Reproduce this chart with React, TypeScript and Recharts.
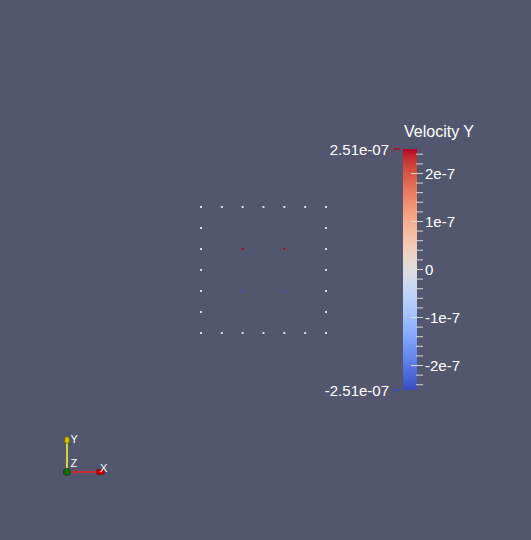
import React from "react";
import {
  ScatterChart,
  ComposedChart,
  Scatter,
  XAxis,
  YAxis,
  ReferenceArea,
  ReferenceLine,
  ReferenceDot
} from "recharts";

// mesh nodes (grid units) and their Velocity Y value
const nodeX = [0, 1, 2, 3, 4, 5, 6, 0, 6, 0, 2, 4, 6, 0, 6, 0, 2, 4, 6, 0, 6, 0, 1, 2, 3, 4, 5, 6];
const nodeY = [6, 6, 6, 6, 6, 6, 6, 5, 5, 4, 4, 4, 4, 3, 3, 2, 2, 2, 2, 1, 1, 0, 0, 0, 0, 0, 0, 0];
const velocityY = [
  0, 0, 0, 0, 0, 0, 0,
  0, 0,
  0, 2.51e-7, 2.51e-7, 0,
  0, 0,
  0, -2.51e-7, -2.51e-7, 0,
  0, 0,
  0, 0, 0, 0, 0, 0, 0
];

const rangeMin = -2.51e-7;
const rangeMax = 2.51e-7;
const colorTicks = [
  -2.51e-7, -2.4e-7, -2.2e-7, -2e-7, -1.8e-7, -1.6e-7, -1.4e-7, -1.2e-7, -1e-7,
  -8e-8, -6e-8, -4e-8, -2e-8, 0, 2e-8, 4e-8, 6e-8, 8e-8, 1e-7, 1.2e-7, 1.4e-7,
  1.6e-7, 1.8e-7, 2e-7, 2.2e-7, 2.4e-7, 2.51e-7
];
const title = "Velocity Y";

const nodes = nodeX.map((x, i) => ({ x, y: nodeY[i], v: velocityY[i] }));
const barData = [
  { x: 0, v: rangeMin },
  { x: 1, v: rangeMax }
];

// ParaView "Cool to Warm" colour map
const coolWarm = [
  [59, 76, 192], [68, 90, 204], [77, 104, 215], [87, 117, 225], [98, 130, 234],
  [108, 142, 241], [119, 154, 247], [130, 165, 251], [141, 176, 254], [152, 185, 255],
  [163, 194, 255], [174, 201, 253], [184, 208, 249], [194, 213, 244], [204, 217, 238],
  [213, 219, 230], [221, 221, 221], [229, 216, 209], [236, 211, 197], [241, 204, 185],
  [245, 196, 173], [247, 187, 160], [247, 177, 148], [247, 166, 135], [244, 154, 123],
  [241, 141, 111], [236, 127, 99], [229, 112, 88], [222, 96, 77], [213, 80, 66],
  [203, 62, 56], [192, 40, 47], [180, 4, 38]
];

const rgb = (c: number[]) => `rgb(${c.map(Math.round).join(",")})`;

function colorFor(v: number) {
  const t = Math.max(0, Math.min(1, (v - rangeMin) / (rangeMax - rangeMin)));
  const p = t * (coolWarm.length - 1);
  const i = Math.min(coolWarm.length - 2, Math.floor(p));
  const f = p - i;
  return rgb(coolWarm[i].map((a, k) => a + (coolWarm[i + 1][k] - a) * f));
}

const fmtRange = (v: number) => {
  const [m, e] = v.toExponential(2).split("e");
  const sign = e[0] === "-" ? "-" : "+";
  const digits = e.replace(/[-+]/, "").padStart(2, "0");
  return `${m}e${sign === "-" ? "-" : ""}${digits}`;
};

const fmtTick = (v: number) => {
  if (v === 0) return "0";
  const [m, e] = v.toExponential(0).split("e");
  return `${m}e${e.replace("+", "")}`;
};

const FONT = "'Liberation Sans', Arial, sans-serif";

function NodeShape(props: any) {
  const { cx, cy, payload } = props;
  return <rect x={cx - 1} y={cy - 1} width={2} height={2} fill={colorFor(payload.v)} />;
}

function BarTick(props: any) {
  const { x, y, payload } = props;
  const v = payload.value;
  if (Math.abs(v) > 2.5e-7) {
    const top = v > 0;
    return (
      <g>
        {top && (
          <text x={x - 13} y={y - 12} fill="#ffffff" fontSize={16} fontFamily={FONT}>
            {title}
          </text>
        )}
        <line x1={x - 24} x2={x - 17} y1={y} y2={y} stroke={colorFor(v)} strokeWidth={1.5} />
        <text x={x - 28} y={y + 5.5} textAnchor="end" fill="#ffffff" fontSize={15} fontFamily={FONT}>
          {fmtRange(v)}
        </text>
      </g>
    );
  }
  const major = Math.round(v * 1e8) % 10 === 0;
  return (
    <g>
      <line x1={major ? x - 6 : x - 1} x2={x + 6} y1={y} y2={y} stroke="#d8d8d8" strokeWidth={1} />
      {major && (
        <text x={x + 8} y={y + 5.5} fill="#ffffff" fontSize={15} fontFamily={FONT}>
          {fmtTick(v)}
        </text>
      )}
    </g>
  );
}

function AxisCone(props: any) {
  const { cx, cy, payload } = props;
  if (payload.axis === "X") {
    return (
      <g>
        <polygon
          points={`${cx - 7},${cy - 2.5} ${cx},${cy - 2} ${cx},${cy + 2} ${cx - 7},${cy + 2.5}`}
          fill="#e00000"
          stroke="#700000"
          strokeWidth={0.8}
        />
        <text x={cx - 4} y={cy} fill="#ffffff" fontSize={11} fontFamily={FONT}>X</text>
      </g>
    );
  }
  return (
    <g>
      <polygon
        points={`${cx - 2.5},${cy + 6} ${cx + 2.5},${cy + 6} ${cx + 2},${cy} ${cx - 2},${cy}`}
        fill="#d8c800"
        stroke="#6a6000"
        strokeWidth={0.8}
      />
      <text x={cx + 3.5} y={cy + 6} fill="#ffffff" fontSize={11} fontFamily={FONT}>Y</text>
    </g>
  );
}

const layer: React.CSSProperties = { position: "absolute", left: 0, top: 0 };

export default function App() {
  return (
    <div
      style={{
        position: "fixed",
        left: 0,
        top: 0,
        width: 531,
        height: 540,
        background: "#52576e",
        overflow: "hidden"
      }}
    >
      <div style={layer}>
        <ScatterChart width={531} height={540} margin={{ top: 207, bottom: 207, left: 201, right: 205 }}>
          <XAxis type="number" dataKey="x" domain={[0, 6]} hide />
          <YAxis type="number" dataKey="y" domain={[0, 6]} hide />
          <Scatter data={nodes} shape={<NodeShape />} isAnimationActive={false} />
        </ScatterChart>
      </div>

      <div style={layer}>
        <ComposedChart width={531} height={540} data={barData} margin={{ top: 149, bottom: 150, left: 403, right: 54 }}>
          <defs>
            <linearGradient id="coolwarm" x1="0" y1="1" x2="0" y2="0">
              {coolWarm.map((c, i) => (
                <stop key={i} offset={i / (coolWarm.length - 1)} stopColor={rgb(c)} />
              ))}
            </linearGradient>
          </defs>
          <XAxis type="number" dataKey="x" domain={[0, 1]} hide />
          <YAxis
            type="number"
            dataKey="v"
            orientation="right"
            domain={[rangeMin, rangeMax]}
            allowDataOverflow
            ticks={colorTicks}
            interval={0}
            tick={<BarTick />}
            tickSize={0}
            tickMargin={0}
            axisLine={false}
            tickLine={false}
            width={60}
          />
          <ReferenceArea x1={0} x2={1} y1={rangeMin} y2={rangeMax} fill="url(#coolwarm)" fillOpacity={1} stroke="none" />
        </ComposedChart>
      </div>

      <div style={layer}>
        <ScatterChart width={531} height={540} margin={{ top: 437, bottom: 68, left: 67, right: 427 }}>
          <XAxis type="number" dataKey="x" domain={[0, 1]} hide />
          <YAxis type="number" dataKey="y" domain={[0, 1]} hide />
          <ReferenceLine segment={[{ x: 0, y: 0 }, { x: 1, y: 0 }]} stroke="#ff1a1a" strokeWidth={1.5} />
          <ReferenceLine segment={[{ x: 0, y: 0 }, { x: 0, y: 1 }]} stroke="#ffff30" strokeWidth={1.5} />
          <Scatter
            data={[
              { x: 1, y: 0, axis: "X" },
              { x: 0, y: 1, axis: "Y" }
            ]}
            shape={<AxisCone />}
            isAnimationActive={false}
          />
          <ReferenceDot
            x={0}
            y={0}
            r={3.5}
            fill="#0f6e0f"
            stroke="#0a4a0a"
            label={{ value: "Z", position: "insideTopLeft", fill: "#ffffff", fontSize: 11, fontFamily: FONT, dx: 2, dy: -14 }}
          />
        </ScatterChart>
      </div>
    </div>
  );
}
